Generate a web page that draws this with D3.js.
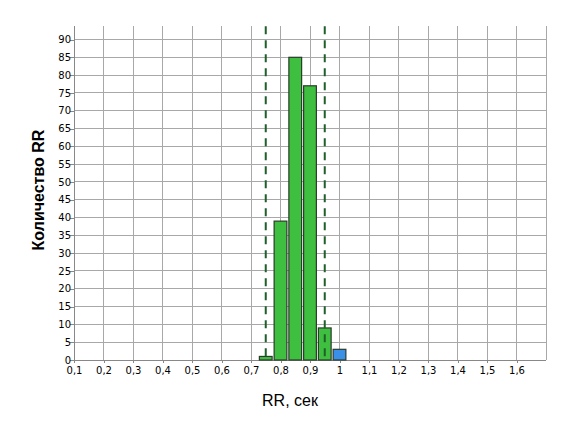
<!DOCTYPE html>
<html><head><meta charset="utf-8">
<script src="https://cdn.jsdelivr.net/npm/d3@7"></script>
<style>body{margin:0;background:#fff}svg{display:block}</style>
</head><body>
<script>
const binCenters = [0.75, 0.8, 0.85, 0.9, 0.95, 1.0];
const counts = [1, 39, 85, 77, 9, 3];
const barColors = ["#3fbf3f", "#3fbf3f", "#3fbf3f", "#3fbf3f", "#3fbf3f", "#3a8fe6"];
const xTicks = [0.1,0.2,0.3,0.4,0.5,0.6,0.7,0.8,0.9,1.0,1.1,1.2,1.3,1.4,1.5,1.6];
const xGrid = [0.2,0.3,0.4,0.5,0.6,0.7,0.8,0.9,1.0,1.1,1.2,1.3,1.4,1.5,1.6,1.7];
const yTicks = [0,5,10,15,20,25,30,35,40,45,50,55,60,65,70,75,80,85,90];
const limits = [0.75, 0.95];
const binWidth = 0.05;

const W = 581, H = 430;
const svg = d3.select("body").append("svg").attr("width", W).attr("height", H);
const x = d3.scaleLinear().domain([0.1, 1.7]).range([74, 546]);
const y = d3.scaleLinear().domain([0, 90]).range([360, 39.5]);
const topY = y(93.75);
const fmtX = d => (Math.abs(d - 1) < 1e-9 ? "1" : d3.format(".1f")(d).replace(".", ","));

// grid
svg.append("g").selectAll("line").data(yTicks.filter(d => d > 0)).join("line")
  .attr("x1", x(0.1)).attr("x2", x(1.7)).attr("y1", d => y(d)).attr("y2", d => y(d))
  .attr("stroke", "#a8a8a8").attr("stroke-width", 1).attr("shape-rendering", "crispEdges");
svg.append("g").selectAll("line").data(xGrid).join("line")
  .attr("x1", d => x(d)).attr("x2", d => x(d)).attr("y1", topY).attr("y2", y(0))
  .attr("stroke", "#a8a8a8").attr("stroke-width", 1).attr("shape-rendering", "crispEdges");

// axes
const yAxis = svg.append("g").attr("transform", `translate(${x(0.1)},0)`)
  .call(d3.axisLeft(y).tickValues(yTicks).tickSize(4).tickSizeOuter(0).tickFormat(d => d));
yAxis.select(".domain").attr("d", `M0,${topY}V${y(0)}`);
const xAxis = svg.append("g").attr("transform", `translate(0,${y(0)})`)
  .call(d3.axisBottom(x).tickValues(xTicks).tickSize(3).tickSizeOuter(0).tickFormat(fmtX));
xAxis.select(".domain").attr("d", `M${x(0.1)},0H${x(1.7)}`);
[yAxis, xAxis].forEach(a => {
  a.select(".domain").attr("stroke", "#888").attr("shape-rendering", "crispEdges");
  a.selectAll(".tick line").attr("stroke", "#888").attr("shape-rendering", "crispEdges");
  a.selectAll("text").attr("fill", "#000").style("font-family", "'DejaVu Sans', sans-serif").style("font-size", "10px");
});
yAxis.selectAll("text").attr("x", -3);
xAxis.selectAll("text").attr("y", 7);

// bars
const half = binWidth / 2;
svg.append("g").selectAll("rect").data(binCenters).join("rect")
  .attr("x", d => x(d - half) + 1)
  .attr("width", d => x(d + half) - x(d - half) - 2)
  .attr("y", (d, i) => y(counts[i]))
  .attr("height", (d, i) => y(0) - y(counts[i]))
  .attr("fill", (d, i) => barColors[i])
  .attr("stroke", "#2a3a2a").attr("stroke-width", 1.2);

// dashed limits
svg.append("g").selectAll("line").data(limits).join("line")
  .attr("x1", d => x(d)).attr("x2", d => x(d)).attr("y1", topY).attr("y2", y(0))
  .attr("stroke", "#1f5f2a").attr("stroke-width", 2).attr("stroke-dasharray", "8,6");

// labels
svg.append("text").attr("transform", "translate(44,190) rotate(-90)")
  .attr("text-anchor", "middle")
  .style("font-family", "'Liberation Sans', Arial, sans-serif").style("font-size", "16px").style("font-weight", "bold")
  .text("Количество RR");
svg.append("text").attr("x", 290).attr("y", 406).attr("text-anchor", "middle")
  .style("font-family", "'Liberation Sans', Arial, sans-serif").style("font-size", "16px")
  .text("RR, сек");
</script>
</body></html>
